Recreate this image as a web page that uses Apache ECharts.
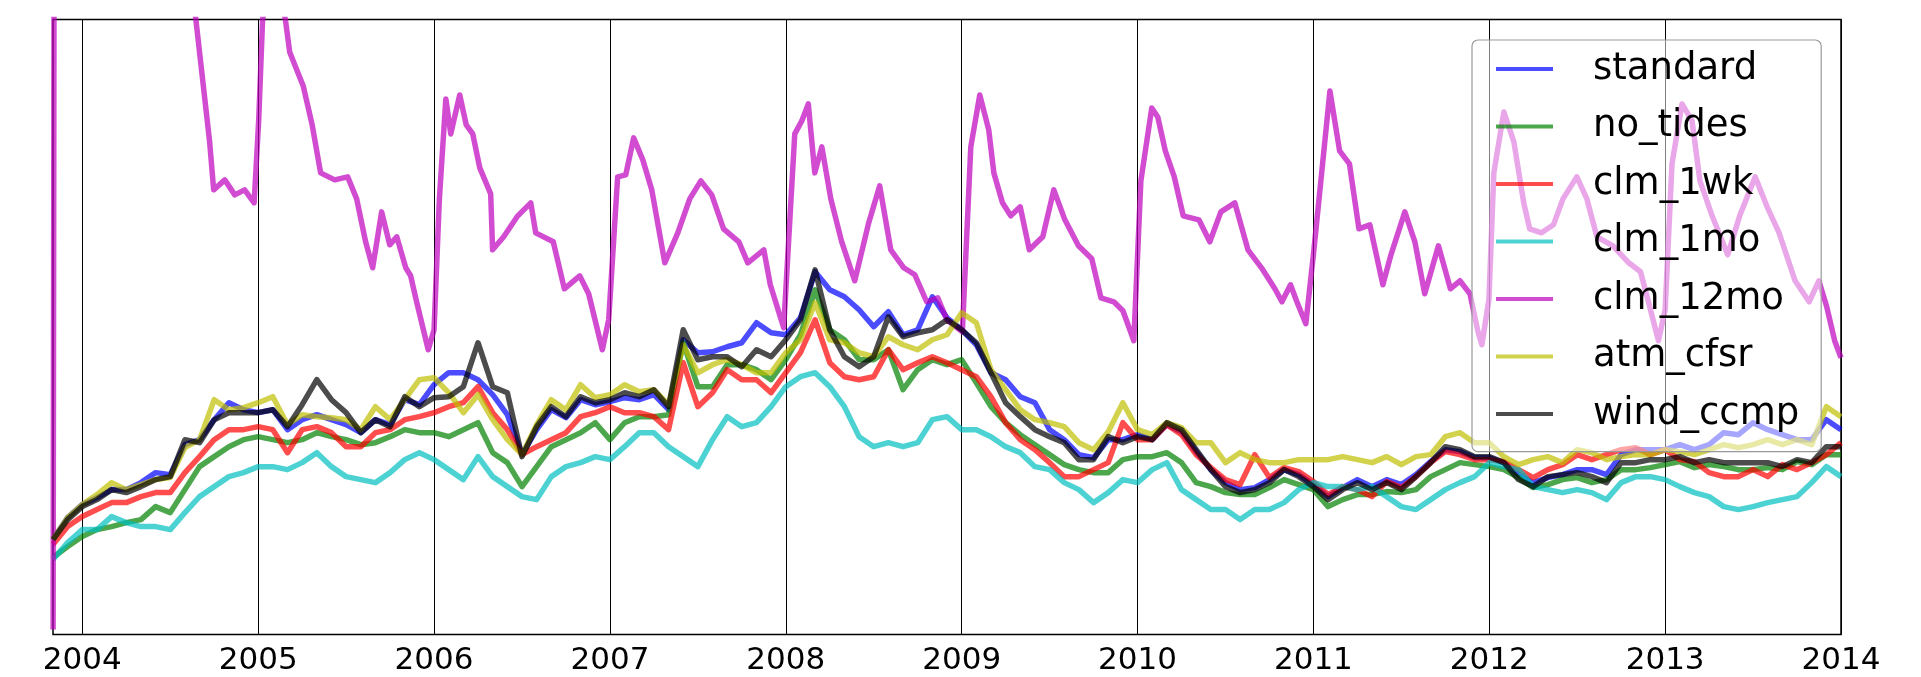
<!DOCTYPE html>
<html>
<head>
<meta charset="utf-8">
<script src="https://cdn.jsdelivr.net/npm/echarts@6/dist/echarts.min.js"></script>
<style>
  html, body { margin: 0; padding: 0; background: #fff; }
  #chart { width: 1921px; height: 677px; }
</style>
</head>
<body>
<div id="chart"></div>
<script>
// monthly samples, Nov 2003 .. Jan 2014 (decimal years)
const months = Array.from({ length: 123 }, (_, i) => 2003 + 10 / 12 + i / 12)

const yearTicks = [2004, 2005, 2006, 2007, 2008, 2009, 2010, 2011, 2012, 2013, 2014]

const standard = [
  9.5, 11.7,
  13.0, 13.7, 14.5, 14.5, 15.2, 16.2, 16.0, 19.0, 19.5, 21.5, 23.2, 22.5,
  22.2, 22.5, 20.5, 21.5, 22.0, 21.5, 21.0, 20.2, 21.5, 21.0, 23.5, 23.0,
  25.0, 26.2, 26.2, 25.5, 24.0, 22.0, 18.0, 20.5, 22.5, 21.7, 23.5, 23.0,
  23.3, 23.7, 23.5, 24.0, 22.5, 29.5, 28.2, 28.3, 28.8, 29.2, 31.2, 30.2,
  30.0, 31.7, 36.3, 34.5, 33.8, 32.5, 30.8, 32.3, 30.0, 30.5, 33.8, 31.7,
  30.5, 29.0, 26.2, 25.5, 23.8, 23.2, 20.5, 19.5, 18.0, 17.7, 19.5, 19.5,
  20.0, 19.5, 21.0, 20.3, 18.3, 16.5, 15.2, 14.5, 14.7, 15.5, 16.5, 16.0,
  15.0, 13.8, 14.7, 15.5, 14.8, 15.5, 15.0, 16.0, 17.3, 18.5, 18.3, 17.7,
  17.7, 17.2, 16.0, 15.2, 15.7, 16.0, 16.5, 16.5, 16.0, 18.0, 18.5, 18.5,
  18.5, 19.0, 18.5, 19.0, 20.2, 20.0, 21.2, 20.5, 20.0, 19.5, 19.5, 21.5,
  20.5
]

const noTides = [
  7.7, 8.8,
  9.8, 10.5, 10.8, 11.2, 11.5, 12.8, 12.2, 14.5, 16.8, 17.8, 18.8, 19.5,
  19.8, 19.5, 19.2, 19.5, 20.2, 19.8, 19.5, 19.0, 19.2, 19.8, 20.5, 20.2,
  20.2, 19.8, 20.5, 21.2, 18.2, 17.2, 14.8, 16.8, 18.8, 19.5, 20.2, 21.2,
  19.5, 21.2, 21.8, 21.8, 22.0, 29.2, 24.8, 24.8, 27.0, 27.0, 26.5, 25.5,
  27.5, 30.0, 34.5, 30.5, 29.5, 27.5, 27.5, 28.5, 24.5, 26.5, 27.5, 27.0,
  27.5, 25.2, 22.8, 21.2, 20.0, 19.0, 18.0, 17.0, 16.5, 16.2, 16.2, 17.5,
  17.8, 17.8, 18.2, 17.2, 15.2, 14.8, 14.2, 14.0, 14.0, 14.7, 15.5, 15.0,
  14.5, 12.8, 13.5, 14.0, 14.0, 14.3, 14.2, 14.5, 15.8, 16.5, 17.2, 17.0,
  16.8, 16.5, 15.7, 14.7, 15.0, 15.5, 15.7, 15.2, 15.5, 16.5, 16.5, 16.7,
  17.0, 17.3, 16.7, 17.0, 16.8, 16.5, 16.5, 16.7, 16.5, 17.3, 17.0, 18.0,
  18.0
]

const clm1wk = [
  9.0, 10.8,
  11.8, 12.5, 13.2, 13.2, 13.8, 14.2, 14.2, 16.2, 17.8, 19.5, 20.5, 20.5,
  20.8, 20.5, 18.2, 20.5, 20.8, 20.2, 18.8, 18.8, 20.2, 20.5, 21.5, 21.8,
  22.2, 22.8, 23.2, 24.8, 22.2, 20.5, 18.0, 18.8, 19.5, 20.2, 21.8, 22.2,
  22.8, 22.2, 22.2, 21.8, 20.5, 27.2, 22.8, 24.2, 26.5, 25.5, 25.5, 24.2,
  26.2, 28.2, 31.5, 27.2, 25.8, 25.5, 25.8, 28.5, 26.5, 27.2, 27.8, 27.2,
  26.5, 25.8, 23.8, 21.2, 19.5, 18.5, 17.2, 15.8, 15.8, 16.5, 17.2, 21.2,
  19.5, 19.5, 21.0, 20.0, 18.0, 16.7, 15.5, 15.0, 18.0, 15.7, 16.7, 16.3,
  15.3, 14.0, 14.8, 14.5, 13.8, 15.3, 14.7, 15.8, 17.2, 18.3, 18.0, 17.5,
  17.5, 17.3, 16.5, 15.7, 16.5, 17.0, 18.0, 17.5, 18.0, 18.5, 18.7, 18.0,
  18.5, 17.5, 17.3, 16.2, 15.8, 15.8, 16.5, 15.8, 17.0, 16.5, 17.2, 18.0,
  19.2
]

const clm1mo = [
  7.5, 9.2,
  10.5, 10.5, 11.8, 11.2, 10.8, 10.8, 10.5, 12.2, 13.8, 14.8, 15.8, 16.2,
  16.8, 16.8, 16.5, 17.2, 18.2, 16.8, 15.8, 15.5, 15.2, 16.2, 17.5, 18.2,
  17.5, 16.5, 15.5, 17.8, 15.8, 14.8, 13.8, 13.5, 15.8, 16.8, 17.2, 17.8,
  17.5, 18.8, 20.2, 20.2, 18.8, 17.8, 16.8, 19.5, 21.8, 20.8, 21.2, 22.8,
  24.8, 25.8, 26.2, 24.8, 22.8, 19.8, 18.8, 19.2, 18.8, 19.2, 21.5, 21.8,
  20.5, 20.5, 19.8, 18.8, 18.2, 16.8, 16.5, 15.2, 14.5, 13.2, 14.2, 15.5,
  15.2, 16.5, 17.2, 14.5, 13.5, 12.5, 12.5, 11.5, 12.5, 12.5, 13.2, 14.5,
  15.2, 14.8, 14.8, 14.5, 14.8, 13.8, 12.8, 12.5, 13.5, 14.5, 15.2, 15.8,
  17.2, 16.8, 16.5, 14.8, 14.5, 14.2, 14.5, 14.2, 13.5, 15.2, 15.8, 15.8,
  15.5, 14.8, 14.2, 13.8, 12.8, 12.5, 12.8, 13.2, 13.5, 13.8, 15.2, 16.8,
  15.8
]

// clm_12mo is read at its own turning points (it runs off the top of the plot)
const clm12moYears = [
  2003.834, 2003.840, 2004.2, 2004.5, 2004.63, 2004.724, 2004.747, 2004.81, 2004.867, 2004.923, 2004.977,
  2005.003, 2005.025, 2005.08, 2005.155, 2005.179, 2005.256, 2005.307, 2005.355, 2005.435, 2005.509,
  2005.56, 2005.611, 2005.651, 2005.702, 2005.748, 2005.788, 2005.839, 2005.867, 2005.901, 2005.967,
  2006.0, 2006.03, 2006.067, 2006.095, 2006.146, 2006.183, 2006.22, 2006.26, 2006.322, 2006.333,
  2006.396, 2006.476, 2006.55, 2006.578, 2006.678, 2006.741, 2006.828, 2006.879, 2006.957, 2006.993,
  2007.044, 2007.09, 2007.135, 2007.187, 2007.238, 2007.312, 2007.386, 2007.454, 2007.517, 2007.579,
  2007.646, 2007.733, 2007.784, 2007.875, 2007.912, 2007.988,
  2008.051, 2008.091, 2008.128, 2008.165, 2008.205, 2008.256, 2008.318, 2008.392, 2008.47, 2008.534,
  2008.597, 2008.671, 2008.734, 2008.801, 2008.864, 2008.916,
  2009.004, 2009.052, 2009.103, 2009.154, 2009.183, 2009.232, 2009.279, 2009.333, 2009.385, 2009.461,
  2009.524, 2009.587, 2009.664, 2009.74, 2009.792, 2009.865, 2009.917, 2009.979,
  2010.019, 2010.081, 2010.115, 2010.158, 2010.209, 2010.26, 2010.349, 2010.411, 2010.474, 2010.553,
  2010.628, 2010.705, 2010.781, 2010.821, 2010.87, 2010.906, 2010.957,
  2011.0, 2011.035, 2011.094, 2011.149, 2011.205, 2011.259, 2011.321, 2011.395, 2011.441, 2011.52,
  2011.577, 2011.633, 2011.711, 2011.779, 2011.833, 2011.89, 2011.936, 2011.958, 2011.998,
  2012.026, 2012.083, 2012.14, 2012.196, 2012.23, 2012.297, 2012.365, 2012.419, 2012.498, 2012.555,
  2012.612, 2012.703, 2012.793, 2012.86, 2012.905, 2012.962,
  2013.0, 2013.039, 2013.096, 2013.153, 2013.198, 2013.267, 2013.356, 2013.424, 2013.512, 2013.58,
  2013.648, 2013.739, 2013.819, 2013.874, 2013.919, 2013.964, 2014.0
]
const clm12mo = [
  0.5, 75, 80, 72, 64, 49.3, 44.5, 45.5, 44.0, 44.5, 43.2,
  51.5, 61.5, 68, 61.5, 58.3, 54.9, 51.0, 46.2, 45.5, 45.8,
  43.6, 39.3, 36.7, 42.3, 39.0, 39.8, 36.7, 35.9, 33.3, 28.5,
  30.5, 43.5, 53.6, 50.1, 54.0, 51.0, 50.1, 46.7, 44.1, 38.5,
  39.8, 41.9, 43.2, 40.2, 39.3, 34.6, 35.9, 34.1, 28.5, 31.5,
  45.8, 46.0, 49.7, 47.5, 44.5, 37.2, 40.2, 43.6, 45.4, 44.0,
  40.6, 39.3, 37.2, 38.5, 35.0, 30.7,
  50.1, 51.4, 53.1, 46.2, 48.8, 43.6, 39.3, 35.4, 41.1, 44.9,
  38.5, 36.7, 36.0, 33.3, 33.7, 31.5,
  30.3, 48.8, 54.0, 50.5, 46.2, 43.2, 41.9, 42.8, 38.5, 39.8,
  44.5, 41.5, 38.9, 37.6, 33.7, 33.3, 32.4, 29.4,
  45.4, 52.7, 51.8, 48.4, 45.8, 41.9, 41.5, 39.3, 42.3, 43.2,
  38.5, 36.7, 34.6, 33.3, 35.0, 33.3, 31.1,
  38.0, 44.1, 54.4, 48.4, 47.1, 40.6, 41.0, 35.0, 38.0, 42.3,
  39.3, 34.1, 38.9, 34.6, 35.4, 34.1, 30.3, 29.0, 33.5,
  46.2, 52.3, 49.3, 43.2, 40.6, 40.2, 41.0, 43.6, 45.8, 43.6,
  39.8, 38.9, 37.2, 36.3, 33.3, 29.4,
  32.5, 47.1, 53.1, 51.4, 45.4, 41.9, 38.0, 41.9, 45.8, 42.8,
  40.2, 35.4, 33.3, 35.4, 32.8, 29.4, 27.7
]

const atmCfsr = [
  9.5, 11.7,
  13.0, 14.0, 15.2, 14.5, 15.0, 15.5, 15.7, 18.7, 19.5, 23.5, 22.5, 22.7,
  23.2, 23.8, 21.0, 22.0, 21.8, 21.7, 21.5, 20.5, 22.8, 21.5, 23.5, 25.5,
  25.7, 24.2, 22.2, 24.0, 21.5, 19.5, 18.0, 21.0, 23.5, 22.5, 25.0, 23.7,
  24.0, 25.0, 24.3, 24.5, 23.0, 29.0, 26.2, 27.0, 27.5, 27.0, 26.2, 26.2,
  28.2, 29.5, 33.2, 29.5, 29.2, 28.2, 27.8, 29.8, 29.0, 28.5, 29.5, 30.0,
  32.2, 31.2, 26.5, 24.5, 22.5, 21.5, 21.2, 20.8, 19.2, 18.5, 20.3, 23.2,
  20.5, 20.0, 21.2, 20.7, 19.2, 19.2, 17.2, 18.2, 17.5, 17.2, 17.2, 17.5,
  17.5, 17.5, 17.8, 17.5, 17.2, 17.8, 17.0, 17.8, 18.0, 19.8, 20.2, 19.2,
  19.2, 17.8, 17.0, 17.5, 17.8, 17.2, 18.5, 18.2, 17.5, 17.8, 18.0, 18.0,
  18.5, 18.3, 18.0, 18.5, 19.0, 18.7, 19.0, 19.5, 19.0, 19.5, 19.0, 22.8,
  21.8
]

const windCcmp = [
  9.5, 11.5,
  12.8, 13.5, 14.5, 14.2, 14.8, 15.5, 15.8, 19.5, 19.2, 21.5, 22.2, 22.2,
  22.2, 22.5, 20.8, 23.0, 25.5, 23.5, 22.2, 20.2, 21.5, 20.8, 23.8, 22.8,
  23.7, 23.8, 24.8, 29.2, 24.8, 24.2, 17.8, 20.8, 22.8, 21.8, 23.8, 23.2,
  23.5, 24.2, 23.8, 24.5, 22.8, 30.5, 27.5, 27.8, 27.8, 26.8, 28.5, 27.8,
  29.5, 31.5, 36.5, 30.5, 27.8, 26.8, 27.8, 31.8, 29.8, 30.2, 30.5, 31.5,
  30.5, 29.2, 26.2, 23.2, 21.8, 20.5, 19.8, 19.2, 17.5, 17.5, 19.8, 19.2,
  19.8, 19.5, 21.2, 20.5, 18.5, 16.5, 14.8, 14.2, 14.5, 15.2, 16.5, 15.8,
  14.8, 13.5, 14.5, 15.2, 14.5, 15.2, 14.5, 15.8, 17.2, 18.8, 18.5, 17.8,
  17.8, 17.2, 15.5, 14.8, 15.8, 16.0, 16.2, 15.8, 15.2, 17.2, 17.2, 17.5,
  17.5, 17.8, 17.2, 17.5, 17.2, 17.2, 17.2, 17.2, 16.8, 17.5, 17.2, 18.8,
  18.8
]

const seriesNames = ['standard', 'no_tides', 'clm_1wk', 'clm_1mo', 'clm_12mo', 'atm_cfsr', 'wind_ccmp']
const seriesColors = [
  'rgba(0,0,255,0.7)', 'rgba(0,128,0,0.7)', 'rgba(255,0,0,0.7)', 'rgba(0,191,191,0.7)',
  'rgba(191,0,191,0.7)', 'rgba(191,191,0,0.7)', 'rgba(0,0,0,0.7)'
]

const zip = (xs, ys) => ys.map((y, i) => [xs[i], y])
const seriesData = [
  zip(months, standard),
  zip(months, noTides),
  zip(months, clm1wk),
  zip(months, clm1mo),
  zip(clm12moYears, clm12mo),
  zip(months, atmCfsr),
  zip(months, windCcmp)
]

const chart = echarts.init(document.getElementById('chart'))
chart.setOption({
  animation: false,
  textStyle: { fontFamily: 'DejaVu Sans' },
  grid: {
    left: 53, right: 80, top: 19.5, bottom: 42.5,
    show: true, borderColor: '#000', borderWidth: 1.5, backgroundColor: '#fff'
  },
  legend: {
    orient: 'vertical',
    left: 1472, top: 40,
    padding: [9, 22, 17.7, 24],
    itemGap: 17.5,
    itemWidth: 57,
    itemHeight: 4,
    icon: 'rect',
    backgroundColor: 'rgba(255,255,255,0.5)',
    borderColor: '#999',
    borderWidth: 1.2,
    borderRadius: 6,
    textStyle: {
      fontFamily: 'DejaVu Sans', fontSize: 37, color: '#000',
      lineHeight: 40, padding: [0, 0, 0, 35]
    },
    data: seriesNames
  },
  xAxis: {
    type: 'value',
    min: 2003 + 10 / 12,
    max: 2014,
    axisLine: { show: false },
    axisTick: { show: false, customValues: yearTicks },
    splitLine: { show: true, lineStyle: { color: '#000', width: 1 } },
    axisLabel: {
      customValues: yearTicks,
      formatter: v => String(Math.round(v)),
      fontFamily: 'DejaVu Sans', fontSize: 31, color: '#000', margin: 11
    }
  },
  yAxis: {
    type: 'value',
    min: 0, max: 61.55,
    show: false,
    splitLine: { show: false }
  },
  series: seriesNames.map((name, i) => ({
    name,
    type: 'line',
    data: seriesData[i],
    symbol: 'none',
    clip: true,
    color: seriesColors[i],
    lineStyle: { width: 5.5, color: seriesColors[i], join: 'round' }
  }))
})
</script>
</body>
</html>
